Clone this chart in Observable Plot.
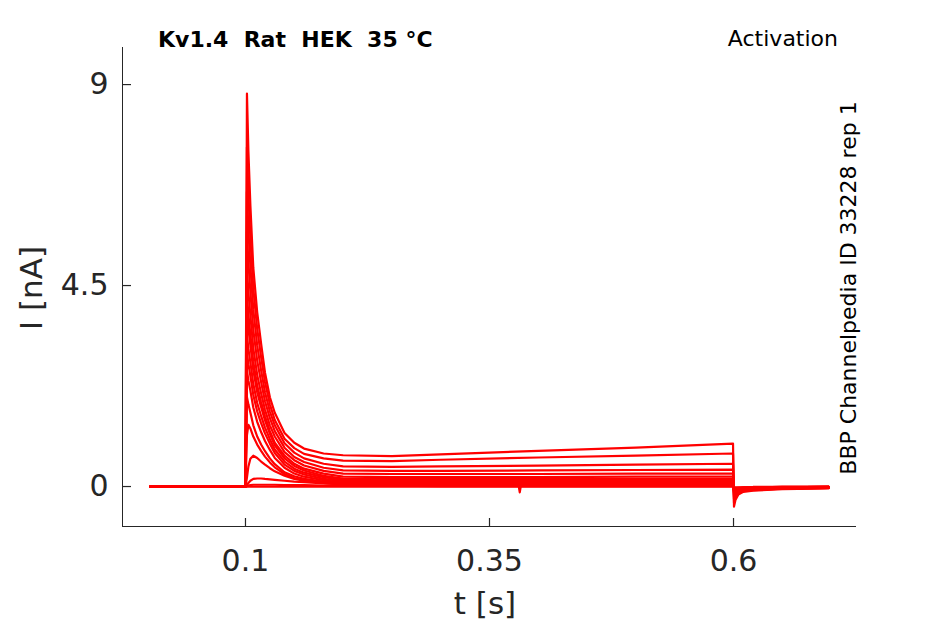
<!DOCTYPE html>
<html>
<head>
<meta charset="utf-8">
<script src="https://cdn.jsdelivr.net/npm/d3@7"></script>
<script src="https://cdn.jsdelivr.net/npm/@observablehq/plot@0.6"></script>
<style>
  html, body { margin: 0; padding: 0; background: #fff; }
  svg text { white-space: pre; }
</style>
</head>
<body>
<div id="chart"></div>
<script>
// ---- data ----
const time = [0.0025, 0.1, 0.1015, 0.103, 0.105, 0.108, 0.112, 0.116, 0.12, 0.125, 0.13, 0.14, 0.15, 0.16, 0.18, 0.2, 0.25, 0.3, 0.4, 0.5, 0.5995, 0.6005, 0.602, 0.605, 0.61, 0.62, 0.65, 0.6975];

const tr1  = [0, 0, 8.8, 7.5, 6.3, 4.9, 3.9, 3.2, 2.55, 2.0, 1.65, 1.2, 0.98, 0.85, 0.74, 0.70, 0.68, 0.72, 0.80, 0.87, 0.96, -0.45, -0.3, -0.18, -0.12, -0.09, -0.06, -0.04];
const tr2  = [0, 0, 7.6, 6.55, 5.56, 4.44, 3.53, 2.90, 2.34, 1.84, 1.49, 1.07, 0.86, 0.73, 0.63, 0.58, 0.57, 0.60, 0.65, 0.69, 0.74, -0.36, -0.25, -0.15, -0.10, -0.08, -0.05, -0.03];
const tr3  = [0, 0, 6.6, 5.74, 4.94, 3.96, 3.16, 2.60, 2.11, 1.68, 1.37, 0.97, 0.76, 0.63, 0.51, 0.45, 0.44, 0.45, 0.47, 0.49, 0.51, -0.28, -0.2, -0.13, -0.09, -0.07, -0.05, -0.03];
const tr4  = [0, 0, 5.7, 5.01, 4.37, 3.51, 2.82, 2.34, 1.91, 1.53, 1.24, 0.87, 0.66, 0.55, 0.42, 0.36, 0.35, 0.35, 0.36, 0.37, 0.38, -0.22, -0.16, -0.11, -0.08, -0.06, -0.04, -0.03];
const tr5  = [0, 0, 4.9, 4.35, 3.84, 3.10, 2.50, 2.09, 1.72, 1.37, 1.12, 0.77, 0.59, 0.47, 0.35, 0.29, 0.28, 0.28, 0.28, 0.29, 0.29, -0.18, -0.13, -0.09, -0.07, -0.05, -0.04, -0.02];
const tr6  = [0, 0, 4.3, 3.85, 3.40, 2.79, 2.26, 1.89, 1.57, 1.24, 0.98, 0.69, 0.51, 0.40, 0.29, 0.22, 0.21, 0.21, 0.21, 0.22, 0.22, -0.14, -0.11, -0.08, -0.06, -0.05, -0.03, -0.02];
const tr7  = [0, 0, 3.9, 3.53, 3.16, 2.60, 2.11, 1.78, 1.48, 1.18, 0.92, 0.63, 0.46, 0.36, 0.24, 0.18, 0.17, 0.17, 0.17, 0.17, 0.17, -0.12, -0.09, -0.07, -0.05, -0.04, -0.03, -0.02];
const tr8  = [0, 0, 3.4, 3.08, 2.78, 2.30, 1.87, 1.58, 1.32, 1.06, 0.83, 0.56, 0.40, 0.31, 0.21, 0.15, 0.14, 0.14, 0.13, 0.13, 0.13, -0.1, -0.08, -0.06, -0.05, -0.04, -0.03, -0.02];
const tr9  = [0, 0, 3.0, 2.74, 2.48, 2.05, 1.68, 1.42, 1.19, 0.96, 0.75, 0.49, 0.35, 0.27, 0.17, 0.12, 0.11, 0.11, 0.10, 0.10, 0.10, -0.09, -0.07, -0.05, -0.04, -0.03, -0.02, -0.02];
const tr10 = [0, 0, 2.6, 2.37, 2.15, 1.77, 1.45, 1.22, 1.02, 0.82, 0.64, 0.42, 0.29, 0.22, 0.14, 0.09, 0.08, 0.08, 0.07, 0.07, 0.07, -0.08, -0.06, -0.05, -0.04, -0.03, -0.02, -0.01];
const tr11 = [0, 0, 2.0, 1.84, 1.66, 1.37, 1.12, 0.94, 0.79, 0.63, 0.50, 0.32, 0.23, 0.17, 0.11, 0.07, 0.06, 0.06, 0.05, 0.05, 0.05, -0.07, -0.05, -0.04, -0.03, -0.03, -0.02, -0.01];
const tr12 = [0, 0, 1.15, 1.38, 1.30, 1.12, 0.94, 0.80, 0.67, 0.54, 0.43, 0.28, 0.19, 0.14, 0.09, 0.06, 0.05, 0.05, 0.04, 0.04, 0.04, -0.06, -0.05, -0.04, -0.03, -0.02, -0.02, -0.01];
const tr13 = [0, 0, 0.2, 0.45, 0.62, 0.69, 0.64, 0.56, 0.49, 0.41, 0.34, 0.24, 0.17, 0.13, 0.08, 0.05, 0.04, 0.03, 0.03, 0.03, 0.03, -0.05, -0.04, -0.03, -0.03, -0.02, -0.01, -0.01];
const tr14 = [0, 0, 0.03, 0.08, 0.13, 0.17, 0.18, 0.18, 0.17, 0.16, 0.15, 0.13, 0.11, 0.10, 0.07, 0.05, 0.04, 0.03, 0.02, 0.02, 0.02, -0.04, -0.03, -0.03, -0.02, -0.02, -0.01, -0.01];
const tr15 = [0, 0, 0.01, 0.02, 0.03, 0.04, 0.04, 0.04, 0.04, 0.04, 0.04, 0.03, 0.03, 0.03, 0.02, 0.02, 0.02, 0.01, 0.01, 0.01, 0.01, -0.03, -0.02, -0.02, -0.02, -0.01, -0.01, -0.01];

const baseTime = [0.0025, 0.38, 0.381, 0.382, 0.5995, 0.6005, 0.602, 0.61, 0.65, 0.6975];
const baseI    = [0, 0, -0.13, 0, 0, -0.08, -0.05, -0.03, -0.02, -0.01];

const xTicks = [0.1, 0.35, 0.6];
const yTicks = [0, 4.5, 9];
const xDomain = [-0.026, 0.726];
const yDomain = [-0.895, 9.83];

const titleText = "Kv1.4  Rat  HEK  35 °C";
const protocolText = "Activation";
const sideText = "BBP Channelpedia ID 33228 rep 1";
const xLabel = "t [s]";
const yLabel = "I [nA]";

// ---- build table ----
const traces = [tr1, tr2, tr3, tr4, tr5, tr6, tr7, tr8, tr9, tr10, tr11, tr12, tr13, tr14, tr15];
const rows = [];
traces.forEach((vals, k) => vals.forEach((v, i) => rows.push({t: time[i], I: v, trace: k})));
baseTime.forEach((t, i) => rows.push({t, I: baseI[i], trace: 99}));

const ink = "#262626";
const W = 945, H = 624, mL = 122, mR = 89, mT = 47, mB = 98;
// tick lengths expressed in data units (8 px down the x axis, 9 px along the y axis)
const tickLenY = 8 * (yDomain[1] - yDomain[0]) / (H - mT - mB);
const tickLenX = 9 * (xDomain[1] - xDomain[0]) / (W - mL - mR);

const chart = Plot.plot({
  width: W,
  height: H,
  marginLeft: mL,
  marginRight: mR,
  marginTop: mT,
  marginBottom: mB,
  x: {domain: xDomain},
  y: {domain: yDomain},
  style: {fontFamily: "DejaVu Sans", color: ink, background: "white", overflow: "visible"},
  marks: [
    Plot.line(rows, {x: "t", y: "I", z: "trace", stroke: "#ff0000", strokeWidth: 2.2, curve: "linear"}),
    Plot.ruleX([xDomain[0]], {stroke: ink, strokeWidth: 1}),
    Plot.ruleY([yDomain[0]], {stroke: ink, strokeWidth: 1}),
    Plot.ruleX(xTicks, {x: d => d, y1: yDomain[0], y2: yDomain[0] + tickLenY, stroke: ink, strokeWidth: 1.2}),
    Plot.ruleY(yTicks, {y: d => d, x1: xDomain[0], x2: xDomain[0] + tickLenX, stroke: ink, strokeWidth: 1.2}),
    Plot.axisX(xTicks, {tickSize: 0, tickPadding: 23, fontSize: 30, label: null, tickFormat: d => String(d), fill: ink}),
    Plot.axisY(yTicks, {tickSize: 0, tickPadding: 14, fontSize: 30, label: null, tickFormat: d => String(d), fill: ink})
  ]
});

const svg = d3.select(chart);
const addText = (txt, x, y, opts = {}) => {
  const t = svg.append("text")
    .attr("x", x).attr("y", y)
    .attr("font-family", "DejaVu Sans")
    .attr("font-size", opts.size || 22)
    .attr("font-weight", opts.weight || "normal")
    .attr("fill", opts.fill || "#000")
    .attr("text-anchor", opts.anchor || "start")
    .attr("xml:space", "preserve")
    .style("white-space", "pre")
    .text(txt);
  if (opts.rotate) t.attr("transform", `rotate(-90 ${x} ${y})`);
  return t;
};
addText(titleText, 158, 46.5, {weight: "bold"});
addText(protocolText, 838, 46, {anchor: "end"});
addText(sideText, 856, 288, {anchor: "middle", rotate: true});
addText(xLabel, 485, 614, {anchor: "middle", size: 31, fill: ink});
addText(yLabel, 42, 288, {anchor: "middle", size: 31, fill: ink, rotate: true});

document.getElementById("chart").appendChild(chart);
</script>
</body>
</html>
